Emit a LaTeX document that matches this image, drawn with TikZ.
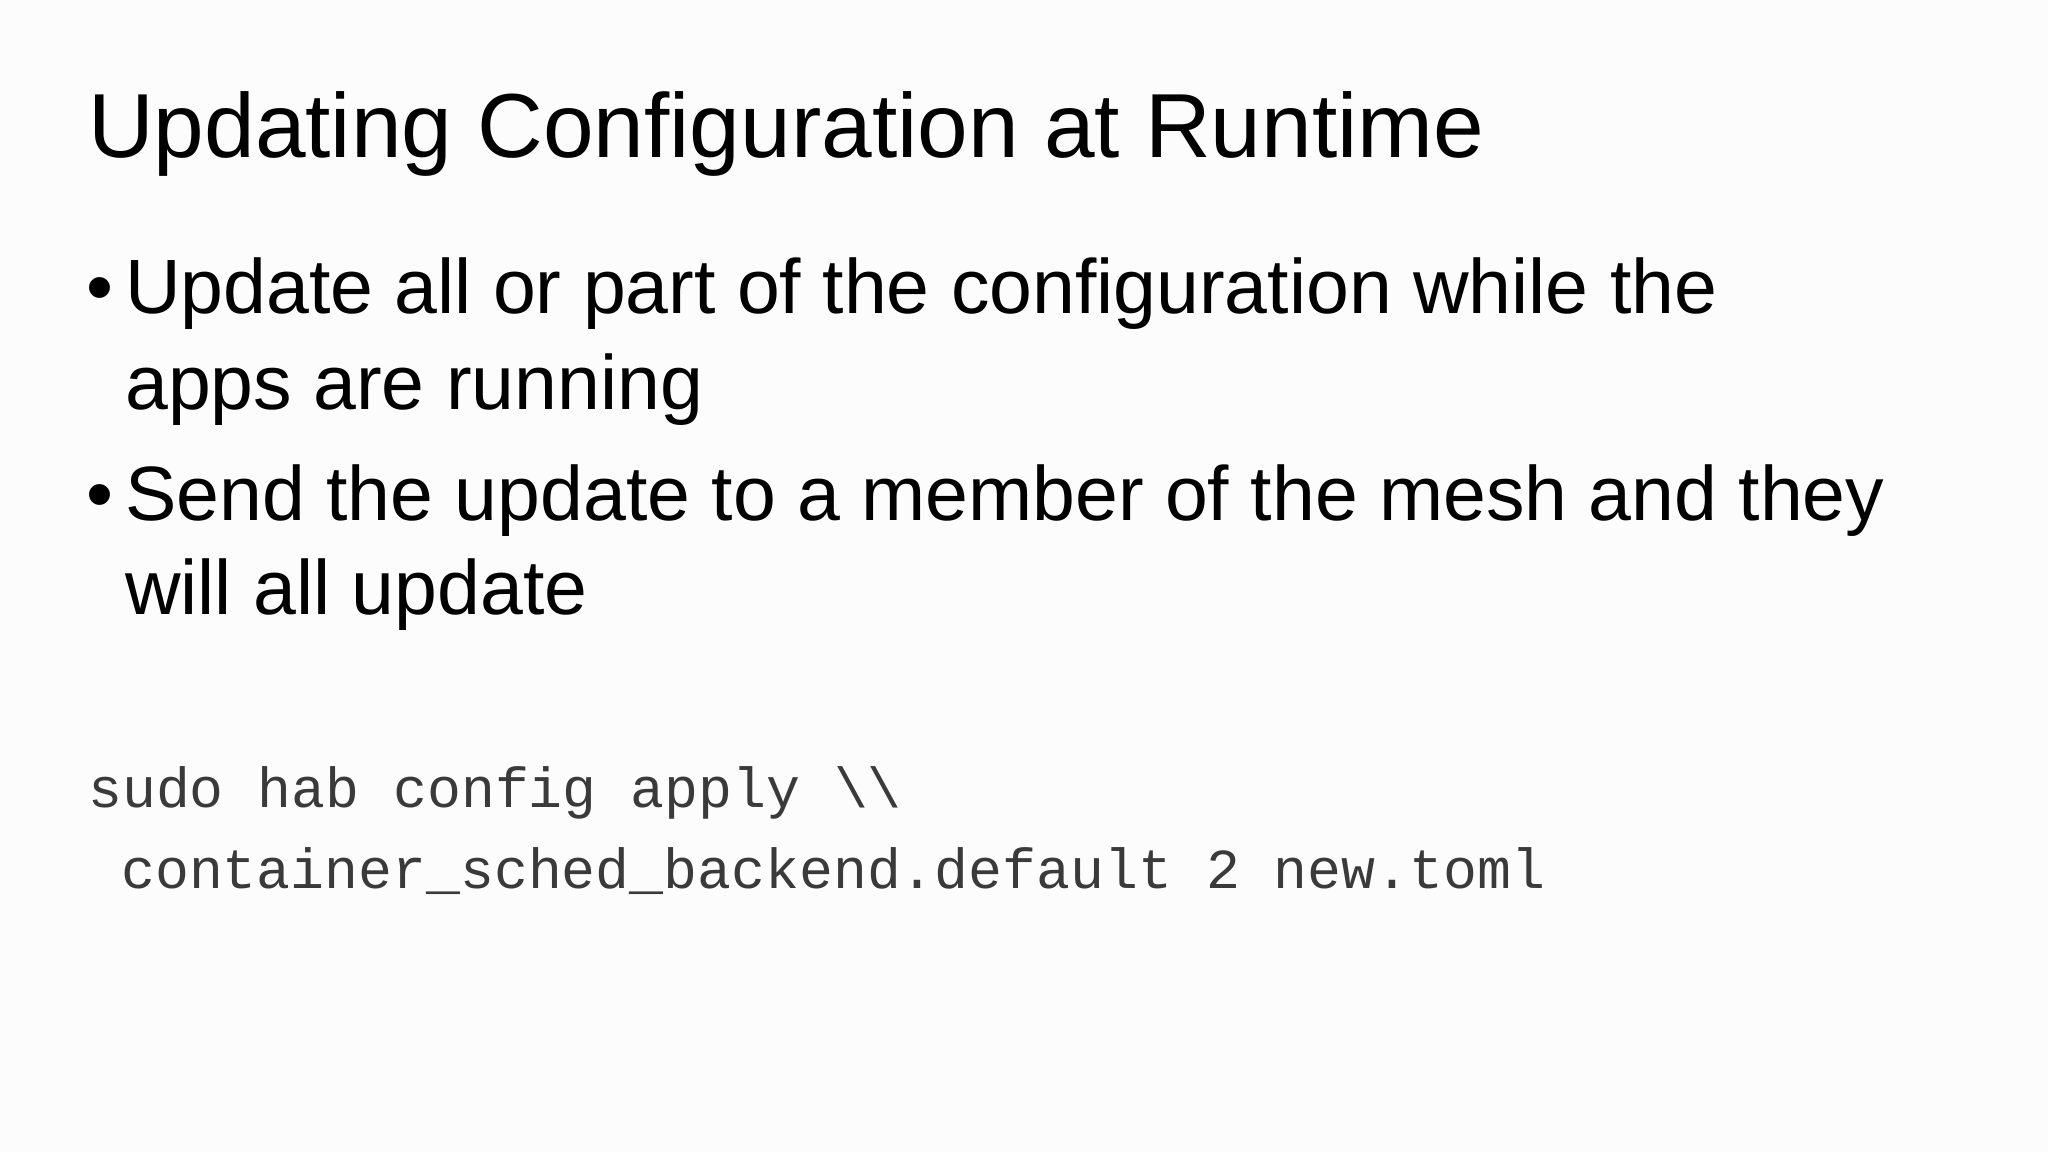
\documentclass[tikz,border=0pt]{standalone}
\usepackage{fontspec}
\setmainfont{Liberation Sans}
\newfontfamily\codefont{Liberation Mono}
\definecolor{bg}{HTML}{FCFCFC}
\definecolor{codegray}{HTML}{3A3A3A}
\begin{document}
\begin{tikzpicture}[x=1pt,y=-1pt,
  title/.style={anchor=base west,inner sep=0pt,font=\fontsize{91}{100}\selectfont},
  body/.style={anchor=base west,inner sep=0pt,font=\fontsize{77}{90}\selectfont},
  code/.style={anchor=base west,inner sep=0pt,text=codegray,font=\codefont\fontsize{56.5}{60}\selectfont}]
\fill[bg] (0,0) rectangle (2048,1152);
\useasboundingbox (0,0) rectangle (2048,1152);
\node[title] (t) at (88,157) {Updating Configuration at Runtime};
\node[body] (b1) at (86,313) {\textbullet};
\node[body] (l1) at (125,313) {Update all or part of the configuration while the};
\node[body] (l2) at (125,409) {apps are running};
\node[body] (b2) at (86,520) {\textbullet};
\node[body] (l3) at (125,520) {Send the update to a member of the mesh and they};
\node[body] (l4) at (125,614) {will all update};
\node[code] (c1) at (88,807) {sudo hab config apply \textbackslash\textbackslash};
\node[code] (c2) at (121,888) {container\_sched\_backend.default 2 new.toml};
\end{tikzpicture}
\end{document}
